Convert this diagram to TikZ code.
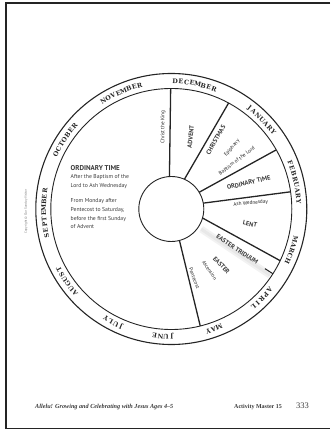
\documentclass[tikz,border=0pt]{standalone}
\usepackage{fontspec}
\setsansfont{PT Sans}
\newfontfamily\monthfont{DejaVu Serif}
\newfontfamily\footfont{Liberation Serif}

\definecolor{ink}{HTML}{242424}
\definecolor{txt}{HTML}{3A3A3A}

% month name set letter by letter, clockwise, centred on angle #1
% #2 = number of letters, #3 = letters, #4 = node prefix
\newcommand\monthname[4]{%
  \foreach \ch [count=\i] in {#3}
    \node[monthletter, name=#4\i, rotate={#1+((#2+1)/2-\i)*2.55-90}]
      at ({#1+((#2+1)/2-\i)*2.55}:127.6) {\ch};}

\begin{document}
\begin{tikzpicture}[x=1pt, y=1pt,
  rim/.style={draw=ink, line width=1.1pt},
  spoke/.style={draw=ink, line width=1.3pt},
  monthletter/.style={font=\monthfont\bfseries\fontsize{6.3}{7}\selectfont,
                      text=ink, inner sep=0pt},
  season/.style={font=\sffamily\bfseries\fontsize{6.3}{7}\selectfont,
                 text=txt, inner sep=0pt},
  feast/.style={font=\sffamily\fontsize{5.2}{6}\selectfont,
                text=ink, inner sep=0pt}
]
\useasboundingbox (0,0) rectangle (330,431);

% page frame
\draw[ink, line width=1.6pt] (330,428) -- (6,428) -- (6,2.5) -- (330,2.5);

\begin{scope}[shift={(171.3,222)}]
  \draw[rim] (0,0) circle[radius=135.5];
  \draw[rim, line width=0.9pt] (0,0) circle[radius=120.5];

  % triduum band: soft shade and stub
  \draw[black!5, line width=7pt] (-34:36) -- (-33.8:119);
  \draw[black!9, line width=3pt] (-34:36) -- (-33.8:119);
  \draw[spoke, line width=1pt] (-32.5:111) -- (-32.5:120.5);

  % season dividers
  \draw[spoke] (93.3:32.5) -- (90.3:120.5);
  \draw[spoke] (66.2:32.5) -- (61.6:120.5);
  \draw[spoke] (31:32.5)   -- (29.4:120.5);
  \draw[spoke] (10.4:32.5) -- (8.2:120.5);
  \draw[spoke] (-16.1:32.5) -- (-25.4:120.5);
  \draw[spoke] (-75.5:32.5) -- (-76.1:120.5);

  \node[circle, draw=ink, line width=0.9pt, fill=white,
        minimum size=65pt, inner sep=0pt] (hub) at (0,0) {};

  \monthname{79.3}{8}{D,E,C,E,M,B,E,R}{dec}
  \monthname{113.3}{8}{N,O,V,E,M,B,E,R}{nov}
  \monthname{147}{7}{O,C,T,O,B,E,R}{oct}
  \monthname{182}{9}{S,E,P,T,E,M,B,E,R}{sep}
  \monthname{214.6}{6}{A,U,G,U,S,T}{aug}
  \monthname{243}{4}{J,U,L,Y}{jul}
  \monthname{266.4}{4}{J,U,N,E}{jun}
  \monthname{289.4}{3}{M,A,Y}{may}
  \monthname{315.3}{5}{A,P,R,I,L}{apr}
  \monthname{341}{5}{M,A,R,C,H}{mar}
  \monthname{12.3}{8}{F,E,B,R,U,A,R,Y}{feb}
  \monthname{44.6}{7}{J,A,N,U,A,R,Y}{jan}
\end{scope}

% seasons and feasts
\node[feast, rotate=90]   (king)      at (163,304)     {Christ the King};
\node[season, rotate=84]  (advent)    at (190.7,294.3) {ADVENT};
\node[season, rotate=60]  (christmas) at (215.7,291)   {CHRISTMAS};
\node[feast, rotate=50]   (epiphany)  at (232,283)     {Epiphany};
\node[feast, rotate=37]   (baptism)   at (237,270)     {Baptism of the Lord};
\node[season, rotate=13]  (otright)   at (248.7,248.3) {ORDINARY TIME};
\node[feast, rotate=5]    (ashwed)    at (250.7,227.7) {Ash Wednesday};
\node[season, rotate=-12] (lent)      at (250,207)     {LENT};
\node[season, rotate=-34] (triduum)   at (237.3,181.7) {EASTER TRIDUUM};
\node[season, rotate=-47] (easter)    at (221.5,165.5) {EASTER};
\node[feast, rotate=-56]  (ascension) at (209.5,160.8) {Ascension};
\node[feast, rotate=-69]  (pentecost) at (194.3,152.7) {Pentecost};

\node[anchor=north west, align=left, inner sep=0pt, text=txt,
      font=\sffamily\fontsize{5.7}{8.7}\selectfont] (otleft) at (70.5,266)
  {{\bfseries\fontsize{7}{8.7}\selectfont ORDINARY TIME}\\
   After the Baptism of the\\Lord to Ash Wednesday\\[6.5pt]
   From Monday after\\Pentecost to Saturday,\\before the first Sunday\\of Advent};

\node[rotate=90, text=black!55, inner sep=0pt,
      font=\sffamily\fontsize{3.3}{4}\selectfont] (copyright) at (26,219.5)
  {Copyright © Our Sunday Visitor};

% footer
\node[anchor=base west, inner sep=0pt, text=txt,
      font=\footfont\bfseries\itshape\fontsize{6.2}{7}\selectfont] (series) at (35,22)
  {Allelu! Growing and Celebrating with Jesus Ages 4–5};
\node[anchor=base west, inner sep=0pt, text=txt,
      font=\footfont\bfseries\fontsize{6}{7}\selectfont] (master) at (234,22)
  {Activity Master 15};
\node[anchor=base west, inner sep=0pt, text=txt,
      font=\footfont\fontsize{8.5}{9}\selectfont] (pageno) at (296,22) {333};
\end{tikzpicture}
\end{document}
